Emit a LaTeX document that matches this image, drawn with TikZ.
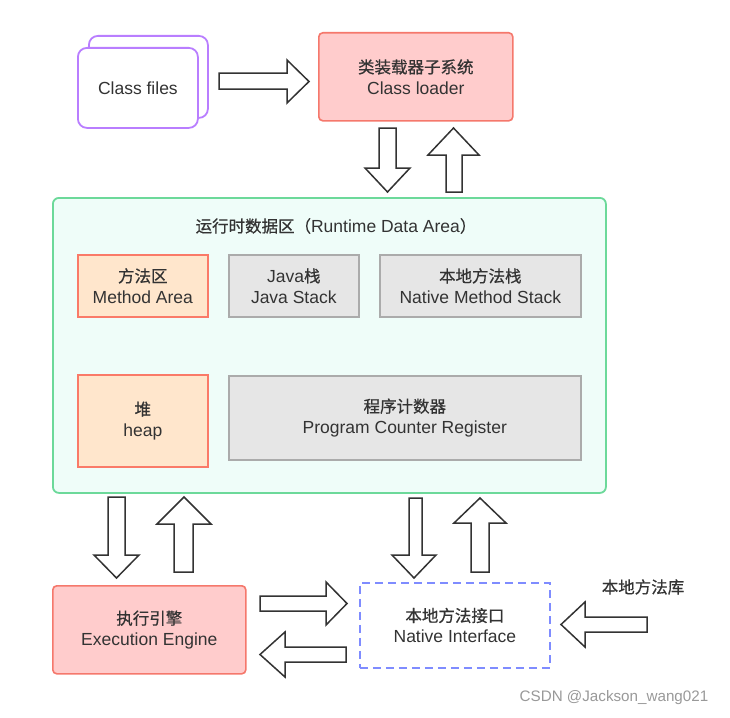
\documentclass[tikz,border=0pt]{standalone}
\usepackage{fontspec}
\setmainfont{Liberation Sans}
\newfontfamily\cjkf[FakeBold=0.6]{Noto Sans CJK SC}
\newcommand\zh[1]{{\cjkf\fontsize{16.5}{21}\selectfont #1}}
\begin{document}
\begin{tikzpicture}[x=1pt,y=-1pt,
  txt/.style={text=black!80, font=\fontsize{17.5}{21}\selectfont, align=center},
  redbox/.style={txt, draw=cRedS, fill=cRedF, line width=1.6, rounded corners=4, anchor=north west, inner sep=0},
  orangebox/.style={txt, draw=cOrS, fill=cOrF, line width=1.6, anchor=north west, inner sep=0},
  graybox/.style={txt, draw=cGrS, fill=cGrF, line width=1.6, anchor=north west, inner sep=0},
  card/.style={txt, draw=cPur, fill=white, line width=1.8, rounded corners=9, anchor=north west, inner sep=0},
  blk/.style={draw=black!80, fill=white, line width=1.5, line join=miter}
]
\definecolor{cRedS}{HTML}{F5786C}
\definecolor{cRedF}{HTML}{FFCCCC}
\definecolor{cOrS}{HTML}{FA7A68}
\definecolor{cOrF}{HTML}{FFE6CC}
\definecolor{cGrS}{HTML}{ABABAB}
\definecolor{cGrF}{HTML}{E6E6E6}
\definecolor{cPur}{HTML}{B97EFF}
\definecolor{cGrnS}{HTML}{6CD99A}
\definecolor{cGrnF}{HTML}{EFFDF9}
\definecolor{cBlu}{HTML}{7F8CFF}
\useasboundingbox (0,0) rectangle (730,717);
\fill[white] (0,0) rectangle (730,717);

% class files
\node (cfb) [card, minimum width=119, minimum height=82] at (88,35) {};
\node (cf) [card, minimum width=120, minimum height=80] at (77,47) {Class files};

% class loader
\node (cl) [redbox, minimum width=194, minimum height=88] at (318,32) {\zh{类装载器子系统}\\Class loader};

% runtime data area
\node (rt) [draw=cGrnS, fill=cGrnF, line width=1.8, rounded corners=6, anchor=north west, minimum width=553, minimum height=295, inner sep=0] at (52,197) {};
\node (rtt) [txt] at (336,226) {\zh{运行时数据区（}Runtime Data Area\zh{）}};
\node (ma) [orangebox, minimum width=130, minimum height=62] at (77,254) {\zh{方法区}\\Method Area};
\node (js) [graybox, minimum width=130, minimum height=62] at (228,254) {Java\zh{栈}\\Java Stack};
\node (ns) [graybox, minimum width=201, minimum height=62] at (379,254) {\zh{本地方法栈}\\Native Method Stack};
\node (hp) [orangebox, minimum width=130, minimum height=92] at (77,374) {\zh{堆}\\heap};
\node (pc) [graybox, minimum width=352, minimum height=84] at (228,375) {\zh{程序计数器}\\Program Counter Register};

% execution engine
\node (ee) [redbox, minimum width=193, minimum height=88] at (52,585) {\zh{执行引擎}\\Execution Engine};

% native interface
\node (ni) [txt, draw=cBlu, line width=1.8, dash pattern=on 8 off 5, anchor=north west, minimum width=190, minimum height=85, inner sep=0] at (359,582) {\zh{本地方法接口}\\Native Interface};

% native library label
\node (nl) [txt] at (643,587) {\zh{本地方法库}};

% watermark
\node (wm) [text=black!40, font=\fontsize{15.2}{18}\selectfont] at (614,698) {CSDN @Jackson\_wang021};

% block arrows
% class files -> class loader
\draw[blk] (219,73) -- (287,73) -- (287,60) -- (309,81.5) -- (287,103) -- (287,89) -- (219,89) -- cycle;
% class loader down
\draw[blk] (379,128) -- (396,128) -- (396,168) -- (410,168) -- (387.5,192) -- (365,168) -- (379,168) -- cycle;
% up to class loader
\draw[blk] (446,192) -- (462,192) -- (462,155) -- (479,155) -- (453.5,128) -- (428,155) -- (446,155) -- cycle;
% runtime -> execution engine
\draw[blk] (108,497) -- (125,497) -- (125,555) -- (139,555) -- (116.5,578) -- (94,555) -- (108,555) -- cycle;
% execution engine -> runtime
\draw[blk] (174,572) -- (193,572) -- (193,524) -- (211,524) -- (184,497) -- (157,524) -- (174,524) -- cycle;
% runtime -> native interface
\draw[blk] (409,498) -- (422,498) -- (422,555) -- (436,555) -- (414,578) -- (392,555) -- (409,555) -- cycle;
% native interface -> runtime
\draw[blk] (471,572) -- (489,572) -- (489,523) -- (506,523) -- (480,498) -- (454,523) -- (471,523) -- cycle;
% EE -> NI
\draw[blk] (260,596) -- (326,596) -- (326,582) -- (347,603.5) -- (326,625) -- (326,611) -- (260,611) -- cycle;
% NI -> EE
\draw[blk] (346,647) -- (285,647) -- (285,632) -- (260,654.5) -- (285,677) -- (285,662) -- (346,662) -- cycle;
% native library -> NI
\draw[blk] (647,617) -- (585,617) -- (585,602) -- (561,624.5) -- (585,647) -- (585,632) -- (647,632) -- cycle;
\end{tikzpicture}
\end{document}
